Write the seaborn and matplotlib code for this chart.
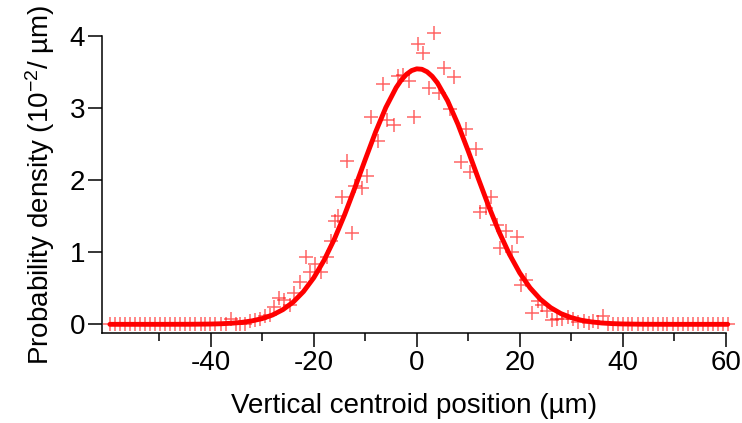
import numpy as np
import pandas as pd
import matplotlib
matplotlib.use("Agg")
import matplotlib.pyplot as plt
import seaborn as sns

# ---- data ----
tail_left_x = [-59.6, -58.6, -57.6, -56.7, -55.7, -54.7, -53.8, -52.8, -51.8, -50.8,
               -49.8, -48.9, -47.9, -46.9, -45.9, -45.0, -44.0, -43.0, -42.0, -41.1,
               -40.1, -39.1, -38.1, -37.1]
tail_left_y = [0.0] * 22 + [0.01, 0.01]

center_x = [-36.1, -35.2, -34.3, -33.3, -32.3, -31.4, -30.4, -29.4, -28.6, -27.7,
            -26.8, -25.8, -24.7, -23.8, -22.6, -21.6, -20.8, -19.8, -18.6, -17.5,
            -16.7, -15.9, -15.2, -14.5, -13.6, -12.6, -11.9, -10.6, -9.7, -8.8,
            -7.6, -6.6, -5.8, -4.5, -3.6, -2.6, -1.6, -0.6, 0.2, 1.3,
            2.4, 3.4, 4.3, 5.2, 6.4, 7.3, 8.5, 9.6, 10.4, 11.6,
            12.3, 13.5, 14.5, 15.5, 16.2, 17.4, 18.5, 19.5, 20.3, 21.2,
            22.4, 23.5, 24.3, 25.3, 26.3, 27.2, 28.2, 29.3, 30.3, 31.4,
            32.4, 33.4, 34.3, 35.2, 36.2]
center_y = [0.07, 0.00, 0.01, 0.00, 0.04, 0.06, 0.08, 0.11, 0.13, 0.24,
            0.36, 0.34, 0.27, 0.43, 0.59, 0.93, 0.72, 0.84, 0.73, 0.93,
            1.16, 1.44, 1.50, 1.77, 2.27, 1.27, 1.92, 1.89, 2.06, 2.88,
            2.55, 3.34, 2.84, 2.77, 3.45, 3.47, 3.38, 2.88, 3.89, 3.77,
            3.28, 4.05, 3.21, 3.56, 2.99, 3.43, 2.26, 2.72, 2.11, 2.44,
            1.56, 1.61, 1.77, 1.38, 1.06, 1.29, 1.01, 1.22, 0.55, 0.62,
            0.16, 0.33, 0.27, 0.18, 0.06, 0.07, 0.07, 0.10, 0.08, 0.03,
            0.04, 0.02, 0.04, 0.03, 0.12]

tail_right_x = [37.1, 38.1, 39.0, 40.0, 41.0, 41.9, 42.9, 43.9, 44.9, 45.8,
                46.8, 47.8, 48.7, 49.7, 50.7, 51.7, 52.6, 53.6, 54.6, 55.5,
                56.5, 57.5, 58.5, 59.4, 60.4]
tail_right_y = [0.01] + [0.0] * 24

fit_x = [-59.6, -50, -44, -40, -38, -36, -34, -32, -30, -28, -26, -24, -22, -20,
         -18, -16, -14, -12, -10, -8, -6, -4, -3, -2, -1, 0, 1, 2, 3, 4, 6, 8,
         10, 12, 14, 16, 18, 20, 22, 24, 26, 28, 30, 32, 34, 36, 38, 40, 44, 50, 60.4]
fit_y = [0.0, 0.0, 0.001, 0.004, 0.008, 0.015, 0.027, 0.048, 0.080, 0.130, 0.204,
         0.309, 0.455, 0.647, 0.890, 1.184, 1.525, 1.900, 2.290, 2.671, 3.013,
         3.289, 3.394, 3.473, 3.525, 3.549, 3.543, 3.508, 3.445, 3.355, 3.104,
         2.779, 2.406, 2.016, 1.635, 1.282, 0.973, 0.714, 0.507, 0.349, 0.232,
         0.149, 0.093, 0.056, 0.033, 0.018, 0.010, 0.005, 0.001, 0.0, 0.0]

x_ticks = [-40, -20, 0, 20, 40, 60]
x_minor = [-50, -30, -10, 10, 30, 50]
y_ticks = [0, 1, 2, 3, 4]

# ---- style ----
sns.set_style("ticks")
plt.rcParams['font.family'] = ['Liberation Sans', 'DejaVu Sans']
plt.rcParams['mathtext.default'] = 'regular'
plt.rcParams['axes.unicode_minus'] = False
plt.rcParams['text.color'] = 'black'
plt.rcParams['axes.labelcolor'] = 'black'
plt.rcParams['xtick.color'] = 'black'
plt.rcParams['ytick.color'] = 'black'

pts = pd.DataFrame({"x": tail_left_x + center_x + tail_right_x,
                    "y": tail_left_y + center_y + tail_right_y})
fit = pd.DataFrame({"x": fit_x, "y": fit_y})

fig = plt.figure(figsize=(7.42, 4.23), dpi=100)
ax = fig.add_axes([0.137, 0.212, 0.841, 0.702])

sns.scatterplot(data=pts, x="x", y="y", marker="+", color="#ff0000", alpha=0.6,
                s=110, linewidth=1.1, ax=ax, clip_on=False, zorder=2)
sns.lineplot(data=fit, x="x", y="y", color="#ff0000", linewidth=3.5, ax=ax,
             zorder=3, clip_on=False)

ax.set_xlim(-61.2, 60)
ax.set_ylim(-0.125, 4.0)
ax.set_xticks(x_ticks)
ax.set_xticks(x_minor, minor=True)
ax.set_yticks(y_ticks)
ax.tick_params(axis='both', which='major', direction='out', length=10, width=1.1,
               labelsize=20, colors='black', pad=2)
ax.tick_params(axis='x', which='minor', direction='out', length=6, width=1.1, color='black')
for s in ['top', 'right']:
    ax.spines[s].set_visible(False)
for s in ['left', 'bottom']:
    ax.spines[s].set_linewidth(1.1)
    ax.spines[s].set_color('black')

ax.set_xlabel("Vertical centroid position (µm)", fontsize=20, labelpad=12)
ax.set_ylabel("Probability density (10$^{-2}$/ µm)", fontsize=20, labelpad=9)

fig.savefig("out.png", dpi=100)
